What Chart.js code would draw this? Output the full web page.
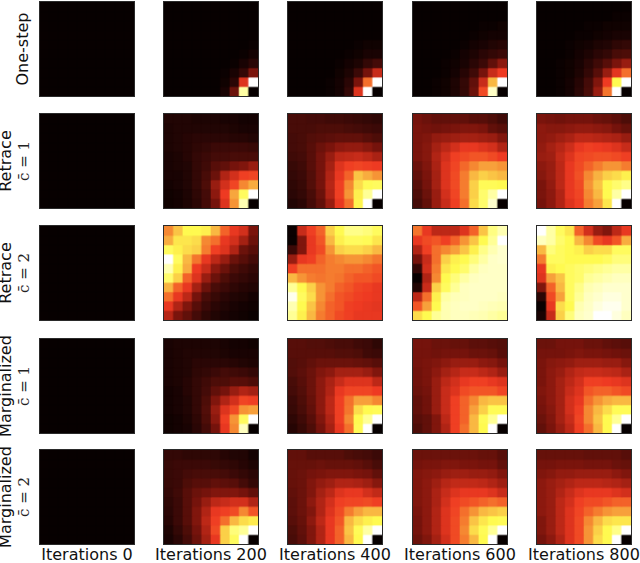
<!DOCTYPE html>
<html>
<head>
<meta charset="utf-8">
<title>Heatmaps</title>
<script src="https://cdn.jsdelivr.net/npm/chart.js@4"></script>
<style>
  html, body { margin: 0; background: #fff; }
  #wrap { position: relative; width: 640px; height: 563px; overflow: hidden; font-family: "DejaVu Sans", sans-serif; color: #111; }
  .panel { position: absolute; width: 94px; height: 94px; outline: 1px solid #2a2a2a; background: #070000; overflow: hidden; }
  .panel div { width: 100px; height: 100px; transform: scale(0.94); transform-origin: 0 0; filter: blur(0.4px); }
  .title { position: absolute; top: 545px; width: 140px; text-align: center; font-size: 16px; line-height: 20px; white-space: nowrap; }
  .side { position: absolute; width: 120px; height: 20px; line-height: 20px; text-align: center; font-size: 16px; white-space: nowrap; transform: translate(-50%, -50%) rotate(-90deg); }
  .sub { font-size: 15px; font-family: "DejaVu Serif", serif; color: #222; }
</style>
</head>
<body>
<div id="wrap"></div>
<script>
var iterations = ["Iterations 0", "Iterations 200", "Iterations 400", "Iterations 600", "Iterations 800"];
var rowNames = [["One-step"], ["Retrace", "c\u0304 = 1"], ["Retrace", "c\u0304 = 2"], ["Marginalized", "c\u0304 = 1"], ["Marginalized", "c\u0304 = 2"]];
var cells = [0, 1, 2, 3, 4, 5, 6, 7, 8, 9];

// values are 0-99, one row per line, top row first
var start0 = [
  [0,0,0,0,0,0,0,0,0,0],[0,0,0,0,0,0,0,0,0,0],[0,0,0,0,0,0,0,0,0,0],[0,0,0,0,0,0,0,0,0,0],[0,0,0,0,0,0,0,0,0,0],
  [0,0,0,0,0,0,0,0,0,0],[0,0,0,0,0,0,0,0,0,0],[0,0,0,0,0,0,0,0,0,0],[0,0,0,0,0,0,0,0,0,0],[0,0,0,0,0,0,0,0,0,0]
];

var oneStep200 = [
  [0,0,0,0,0,0,0,0,0,0],
  [0,0,0,0,0,0,0,0,0,0],
  [0,0,0,0,0,0,0,0,0,0],
  [0,0,0,0,0,0,0,0,0,0],
  [0,0,0,0,0,0,0,0,0,1],
  [0,0,0,0,0,0,0,0,1,3],
  [0,0,0,0,0,0,0,1,4,8],
  [0,0,0,0,0,0,1,4,10,25],
  [0,0,0,0,0,0,2,8,42,99],
  [0,0,0,0,0,0,4,22,90,0]
];
var oneStep400 = [
  [0,0,0,0,0,0,0,0,0,0],
  [0,0,0,0,0,0,0,0,0,0],
  [0,0,0,0,0,0,0,0,0,0],
  [0,0,0,0,0,0,0,0,0,0],
  [0,0,0,0,0,0,0,1,2,2],
  [0,0,0,0,0,0,1,2,4,4],
  [0,0,0,0,0,1,3,5,10,14],
  [0,0,0,0,0,2,5,12,24,38],
  [0,0,0,0,1,3,8,25,54,99],
  [0,0,0,0,1,3,10,42,99,0]
];
var oneStep600 = [
  [0,0,0,0,0,0,0,0,0,0],
  [0,0,0,0,0,0,0,0,0,0],
  [0,0,0,0,0,0,0,1,1,2],
  [0,0,0,0,0,0,1,2,3,3],
  [0,0,0,0,0,1,3,4,6,7],
  [0,0,0,0,1,3,5,8,10,12],
  [0,0,0,1,2,4,8,12,20,28],
  [0,0,0,1,3,7,13,24,38,45],
  [0,0,1,2,5,10,20,38,66,99],
  [0,0,1,2,5,10,22,48,95,0]
];
var oneStep800 = [
  [0,0,0,0,0,0,0,0,0,0],
  [0,0,0,0,0,0,0,0,1,1],
  [0,0,0,0,0,1,1,2,2,2],
  [0,0,0,0,1,1,2,3,4,4],
  [0,0,0,1,2,3,5,6,9,10],
  [0,0,0,1,3,5,8,10,15,16],
  [0,0,1,2,4,8,13,18,25,30],
  [0,0,1,2,5,10,18,30,43,54],
  [0,0,1,3,7,14,26,45,78,99],
  [0,0,1,3,8,15,30,55,99,0]
];

var retrace1200 = [
  [6,6,6,5,5,5,4,4,3,3],
  [5,6,6,6,6,6,6,5,4,4],
  [5,6,7,8,8,8,8,7,7,6],
  [5,6,7,9,10,12,12,12,12,11],
  [4,5,7,10,12,14,14,15,15,15],
  [4,5,6,10,13,18,20,24,26,30],
  [4,4,6,10,15,22,34,40,46,47],
  [3,4,6,10,16,30,40,47,58,64],
  [2,3,5,9,14,28,45,63,80,99],
  [2,3,5,8,14,24,42,60,92,0]
];
var retrace1400 = [
  [15,15,14,14,13,13,12,11,10,9],
  [15,15,15,16,16,16,15,14,13,12],
  [14,15,17,18,19,20,20,20,18,16],
  [14,15,18,22,25,28,29,29,27,24],
  [13,14,18,24,30,36,37,38,36,33],
  [11,13,18,24,32,42,46,47,46,45],
  [10,12,17,24,34,44,52,68,64,60],
  [9,11,17,24,35,46,58,72,79,80],
  [8,10,15,22,34,46,60,76,88,99],
  [6,8,14,20,30,44,54,77,99,0]
];
var retrace1600 = [
  [24,22,20,20,20,20,18,18,16,13],
  [25,24,23,24,25,26,26,25,20,18],
  [25,26,29,30,31,32,32,31,30,26],
  [25,27,32,36,40,44,44,42,40,34],
  [25,27,34,40,46,48,50,50,48,45],
  [22,26,33,42,47,53,58,62,62,60],
  [20,25,32,42,48,56,66,70,68,66],
  [18,24,32,42,48,56,70,79,79,78],
  [16,22,30,40,47,56,70,82,90,99],
  [14,20,30,38,46,54,72,82,96,0]
];
var retrace1800 = [
  [25,24,23,24,24,24,22,21,19,16],
  [28,27,27,28,29,29,28,27,24,21],
  [28,29,31,33,36,36,35,34,33,30],
  [29,32,35,39,44,46,45,44,42,38],
  [30,31,37,42,47,48,49,49,48,46],
  [28,30,36,44,48,52,56,60,60,56],
  [27,30,36,44,49,58,65,70,72,76],
  [25,29,36,44,48,60,68,78,82,86],
  [25,28,34,44,47,58,66,78,90,99],
  [24,28,34,42,46,56,62,74,99,0]
];

var retrace2200 = [
  [58,68,78,78,76,66,52,44,40,25],
  [64,74,74,72,58,54,44,40,32,22],
  [80,76,72,70,56,46,42,34,22,18],
  [99,80,66,55,44,36,30,22,18,14],
  [92,76,64,45,38,28,22,16,13,10],
  [82,70,52,42,30,22,16,12,10,8],
  [65,52,44,32,22,15,12,9,7,6],
  [54,44,36,24,15,11,8,6,5,3],
  [44,34,26,18,12,8,6,4,3,2],
  [35,25,20,14,9,6,4,3,2,1]
];
var retrace2400 = [
  [1,38,46,52,70,78,86,86,84,80],
  [1,26,44,50,66,76,80,80,79,74],
  [12,26,44,48,60,70,72,72,70,66],
  [30,44,46,52,56,58,60,60,58,55],
  [46,54,54,54,56,56,54,54,52,50],
  [66,60,56,55,56,55,52,50,50,48],
  [88,78,70,60,56,52,50,47,46,44],
  [98,80,72,60,54,50,48,46,45,44],
  [92,78,68,58,52,50,46,45,44,43],
  [88,76,66,56,52,48,46,44,44,44]
];
var retrace2600 = [
  [55,44,36,36,36,42,52,68,85,92],
  [44,48,50,46,52,60,68,78,88,99],
  [34,46,54,58,62,68,76,86,92,96],
  [24,38,54,70,76,78,84,90,95,96],
  [10,40,56,74,78,82,90,94,95,95],
  [0,34,58,78,84,90,94,95,95,95],
  [6,38,70,80,88,94,95,95,95,95],
  [36,54,76,90,93,94,95,95,95,94],
  [50,62,78,92,94,95,95,94,93,92],
  [72,78,88,92,94,94,93,92,90,88]
];
var retrace2800 = [
  [99,90,80,74,52,40,30,26,36,44],
  [94,90,82,78,66,58,48,44,50,64],
  [66,84,80,78,76,70,72,72,80,80],
  [56,80,80,78,78,78,78,80,84,84],
  [44,76,78,80,82,84,86,88,90,90],
  [42,62,68,80,82,88,90,92,94,94],
  [26,52,66,80,86,92,94,96,96,96],
  [8,48,62,80,88,94,96,97,97,96],
  [1,44,72,78,92,95,97,98,98,96],
  [4,38,70,84,94,96,99,99,97,94]
];

var marg1200 = [
  [4,5,5,5,5,5,4,3,3,2],
  [4,5,6,6,6,6,5,4,4,4],
  [4,5,6,8,8,8,8,7,6,5],
  [4,5,6,9,10,12,14,13,12,10],
  [4,5,7,10,13,16,16,18,18,16],
  [3,4,7,10,14,20,24,30,34,32],
  [3,4,6,10,16,26,34,40,47,46],
  [3,4,6,10,17,30,42,48,60,62],
  [2,3,5,9,16,28,46,60,80,99],
  [2,3,4,8,14,24,44,58,94,0]
];
var marg1400 = [
  [18,18,17,17,16,15,15,13,12,9],
  [18,18,18,18,18,17,17,16,13,12],
  [17,18,20,22,22,22,22,21,20,18],
  [17,19,22,26,28,32,32,32,30,26],
  [15,18,22,28,33,38,42,42,42,36],
  [14,17,22,28,34,44,47,47,47,45],
  [12,16,21,28,36,46,54,62,62,58],
  [11,15,20,28,36,46,55,72,78,79],
  [9,13,18,26,34,46,58,78,88,99],
  [7,11,16,24,32,44,54,79,99,0]
];
var marg1600 = [
  [24,24,22,22,21,21,19,19,18,17],
  [24,24,23,24,24,24,22,22,21,18],
  [24,25,26,28,30,30,30,28,27,24],
  [23,25,28,32,35,38,38,36,34,30],
  [23,25,30,36,40,44,46,46,44,42],
  [22,24,30,38,42,48,50,50,50,47],
  [20,23,30,38,46,52,58,66,68,68],
  [20,23,30,38,46,52,62,70,79,79],
  [18,20,26,36,46,52,66,79,88,99],
  [16,20,26,34,46,54,66,78,99,0]
];
var marg1800 = [
  [22,22,24,24,24,22,22,20,19,18],
  [24,24,24,25,26,25,25,24,23,22],
  [25,27,28,29,31,31,31,30,30,27],
  [25,28,30,34,37,38,38,37,36,33],
  [25,28,32,36,40,46,46,45,44,42],
  [26,28,32,38,42,50,52,52,50,48],
  [25,28,32,40,44,54,60,64,66,66],
  [24,27,32,40,46,58,66,72,79,79],
  [22,26,32,38,47,58,68,78,88,99],
  [20,25,30,36,46,54,66,78,99,0]
];

var marg2200 = [
  [10,10,9,9,9,9,7,6,6,3],
  [11,12,12,12,12,11,10,9,7,5],
  [11,12,14,15,15,15,14,12,10,8],
  [11,12,16,18,18,20,19,18,14,10],
  [10,13,18,22,24,26,26,26,24,20],
  [9,12,18,24,30,36,38,40,40,34],
  [8,12,18,26,34,44,46,48,58,50],
  [7,12,18,26,36,46,54,66,72,75],
  [5,10,16,24,34,48,70,84,88,99],
  [4,8,14,22,32,44,70,80,99,0]
];
var marg2400 = [
  [20,20,18,18,18,18,16,15,14,12],
  [21,21,21,22,21,21,21,20,18,15],
  [21,22,24,25,26,26,26,25,24,20],
  [21,22,26,29,31,34,34,33,31,27],
  [20,22,26,32,36,42,44,44,40,37],
  [19,22,28,34,40,46,47,47,48,46],
  [19,22,26,34,42,48,56,62,66,66],
  [18,21,28,36,44,50,66,72,76,78],
  [16,20,26,34,44,52,68,79,90,99],
  [15,19,26,34,44,52,66,78,99,0]
];
var marg2600 = [
  [22,22,22,22,22,22,22,21,21,18],
  [24,25,25,26,26,25,25,24,24,20],
  [26,27,28,30,31,31,30,30,29,26],
  [26,28,31,35,37,37,37,36,34,31],
  [26,28,33,38,42,44,44,44,42,38],
  [26,28,33,40,46,48,50,52,54,52],
  [25,28,34,42,47,54,60,66,68,70],
  [24,28,34,42,48,56,68,74,78,79],
  [24,28,34,42,48,58,72,79,88,99],
  [22,26,32,40,48,56,66,78,99,0]
];
var marg2800 = [
  [21,21,21,21,21,20,20,20,20,18],
  [24,24,25,25,25,24,24,24,22,21],
  [26,27,29,29,30,30,30,30,28,26],
  [28,30,32,34,36,36,36,35,34,32],
  [28,30,34,38,42,44,44,44,42,40],
  [28,30,36,40,46,48,48,50,52,52],
  [28,30,36,42,47,52,56,60,62,62],
  [26,30,36,42,48,58,66,72,74,74],
  [26,30,36,42,48,60,70,78,86,99],
  [24,28,34,42,48,60,72,78,99,0]
];

var grid = [
  [start0, oneStep200, oneStep400, oneStep600, oneStep800],
  [start0, retrace1200, retrace1400, retrace1600, retrace1800],
  [start0, retrace2200, retrace2400, retrace2600, retrace2800],
  [start0, marg1200, marg1400, marg1600, marg1800],
  [start0, marg2200, marg2400, marg2600, marg2800]
];

var colLeft = [40, 164, 288, 413, 537];
var rowTop = [2, 114, 226, 339, 450];

// colour ramp (black, maroon, red, orange, yellow, white)
var ramp = [
  [0, 7, 0, 0], [8, 42, 6, 5], [15, 72, 12, 8], [25, 122, 20, 12], [35, 182, 38, 22], [45, 238, 58, 34], [50, 242, 85, 38],
  [57, 245, 130, 48], [65, 248, 178, 65], [72, 252, 220, 75], [78, 255, 250, 80], [88, 255, 255, 150], [96, 255, 255, 205], [99, 255, 255, 255]
];

function colour(v) {
  for (var i = 1; i < ramp.length; i++) {
    if (v <= ramp[i][0]) {
      var a = ramp[i - 1], b = ramp[i];
      var t = (v - a[0]) / (b[0] - a[0]);
      return "rgb(" + [1, 2, 3].map(function (k) { return Math.round(a[k] + (b[k] - a[k]) * t); }).join(",") + ")";
    }
  }
  return "rgb(255,255,255)";
}

var wrap = document.getElementById("wrap");

function drawPanel(matrix, left, top) {
  var box = document.createElement("div");
  box.className = "panel";
  box.style.left = left + "px";
  box.style.top = top + "px";
  var inner = document.createElement("div");
  var canvas = document.createElement("canvas");
  canvas.width = 100;
  canvas.height = 100;
  inner.appendChild(canvas);
  box.appendChild(inner);
  wrap.appendChild(box);

  // each matrix row is one stacked dataset, every cell has height 1
  var datasets = matrix.map(function (row) {
    return {
      data: row.map(function () { return 1; }),
      backgroundColor: row.map(colour),
      borderWidth: 0,
      barPercentage: 1,
      categoryPercentage: 1
    };
  });

  new Chart(canvas, {
    type: "bar",
    data: { labels: cells, datasets: datasets },
    options: {
      responsive: false,
      animation: false,
      devicePixelRatio: 1,
      layout: { padding: 0 },
      plugins: { legend: { display: false }, tooltip: { enabled: false } },
      scales: {
        x: { stacked: true, display: false },
        y: { stacked: true, display: false, reverse: true, min: 0, max: 10 }
      }
    }
  });
}

grid.forEach(function (row, r) {
  row.forEach(function (matrix, c) {
    drawPanel(matrix, colLeft[c], rowTop[r]);
  });
});

iterations.forEach(function (name, c) {
  var el = document.createElement("div");
  el.className = "title";
  el.textContent = name;
  el.style.left = (colLeft[c] + 47 - 70) + "px";
  wrap.appendChild(el);
});

rowNames.forEach(function (lines, r) {
  var mid = rowTop[r] + 47;
  lines.forEach(function (text, i) {
    var el = document.createElement("div");
    el.className = "side" + (i == 1 ? " sub" : "");
    el.textContent = text;
    el.style.left = (lines.length == 1 ? 23 : (i == 0 ? 6 : 24)) + "px";
    el.style.top = mid + "px";
    wrap.appendChild(el);
  });
});
</script>
</body>
</html>
